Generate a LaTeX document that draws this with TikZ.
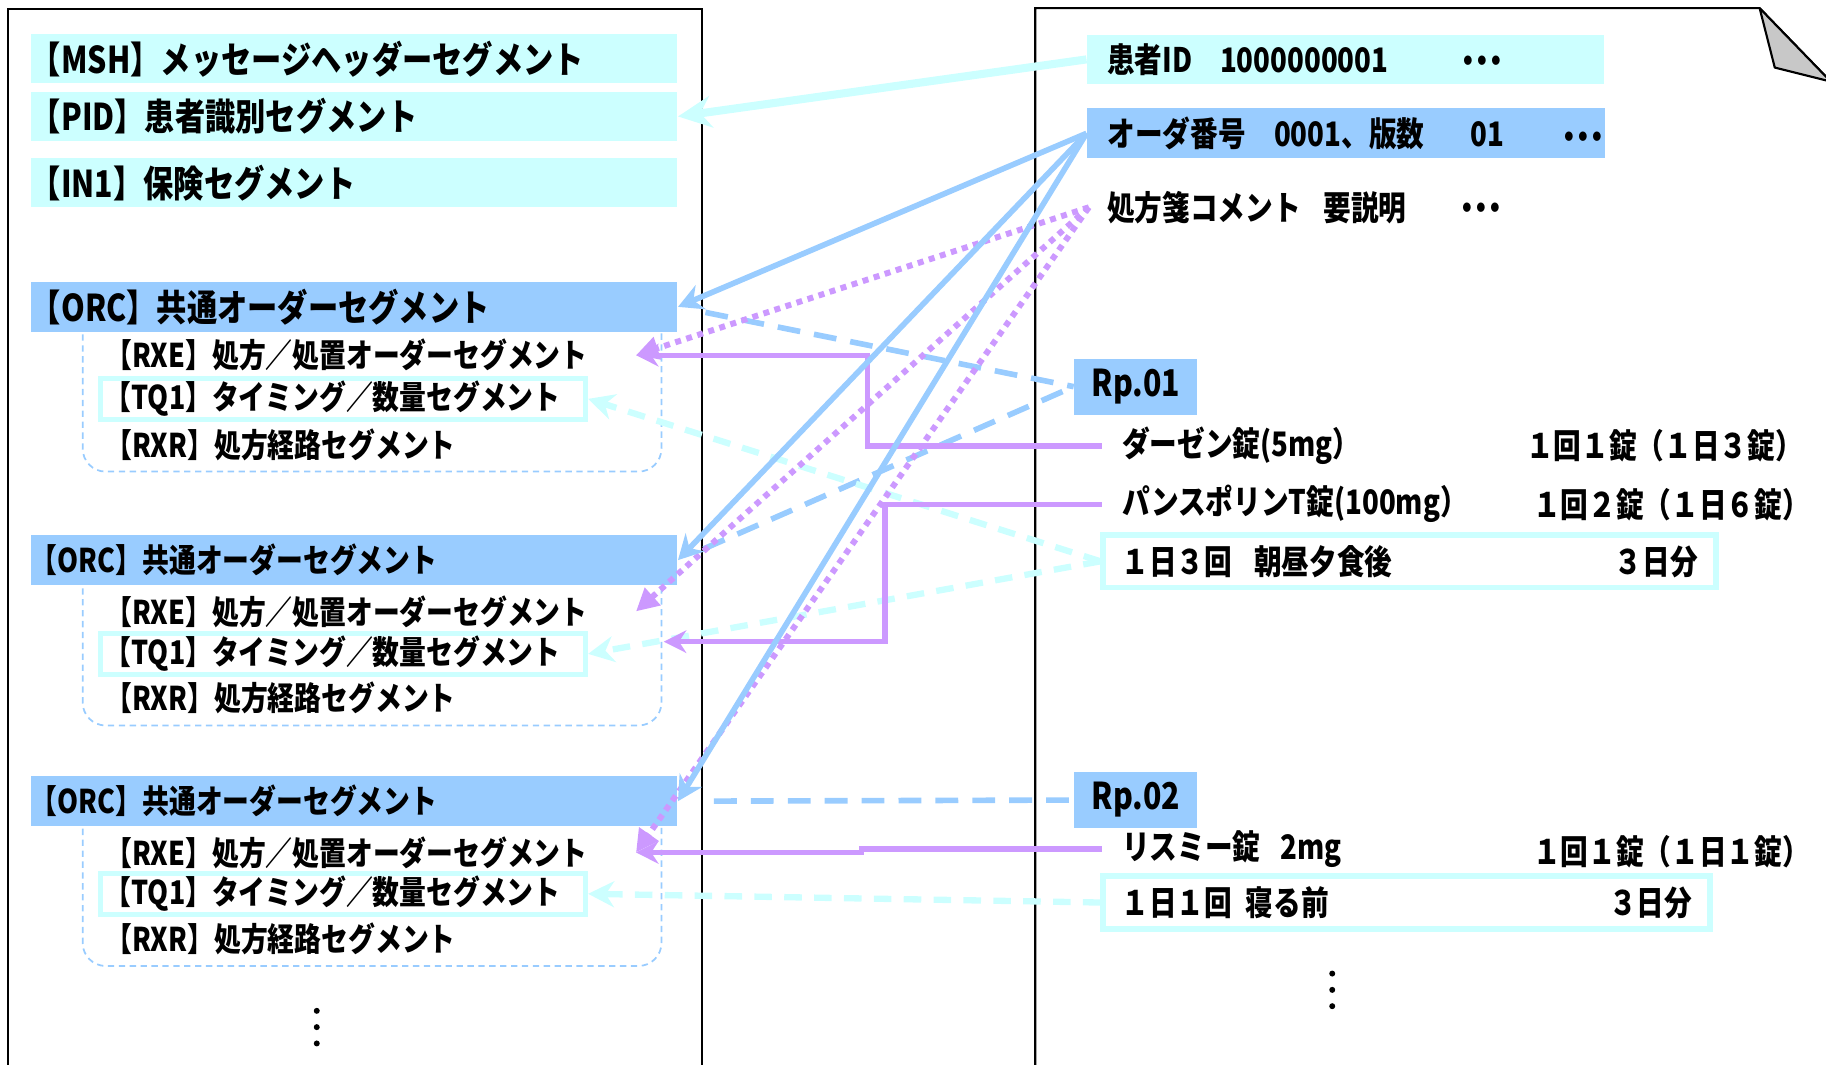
\documentclass[tikz,border=0pt]{standalone}
\usepackage{fontspec}
\setmainfont{Noto Sans CJK JP}[FakeStretch=0.82]
\usetikzlibrary{arrows.meta}
\definecolor{cyanlt}{HTML}{CCFFFF}
\definecolor{bluelt}{HTML}{99CCFF}
\definecolor{purplt}{HTML}{CC99FF}
\definecolor{foldgray}{HTML}{C8C8C8}

\begin{document}
\begin{tikzpicture}[x=0.11645mm,y=-0.11645mm]
			\tikzstyle{bigfont} = [font=\fontsize{10.5pt}{12pt}\selectfont\bfseries]
			\tikzstyle{smallfont} = [font=\fontsize{9.3pt}{11pt}\selectfont\bfseries]
			\tikzstyle{midfont} = [font=\fontsize{9.6pt}{11pt}\selectfont\bfseries]
			\tikzstyle{segbar} = [rectangle,anchor=west,inner xsep=0pt,inner ysep=0pt,minimum height=4.9mm,text width=64.63mm,align=left]
			\tikzstyle{grpbox} = [rectangle,draw=bluelt,line width=0.5pt,dash pattern=on 1.8pt off 1.3pt,rounded corners=2.3mm,minimum width=57.88mm,minimum height=16.88mm]
			\tikzstyle{subseg} = [anchor=west,inner sep=0pt,text width=52.98mm,align=left,smallfont]
			\tikzstyle{tqbox} = [rectangle,anchor=west,draw=cyanlt,line width=0.47mm,inner xsep=0.47mm,inner ysep=0pt,minimum width=48.56mm,minimum height=4.08mm,text width=47.62mm,align=left,smallfont]
			\tikzstyle{rbar} = [rectangle,anchor=west,inner xsep=1.98mm,inner ysep=0pt,minimum height=4.9mm,text width=47.74mm,align=left,midfont]
			\tikzstyle{rpbox} = [rectangle,anchor=west,fill=bluelt,inner xsep=1.75mm,inner ysep=0pt,minimum height=5.59mm,text width=8.73mm,align=left,bigfont]
			\tikzstyle{drug} = [anchor=west,inner xsep=1.98mm,inner ysep=0pt,midfont]
			\tikzstyle{lbl} = [anchor=west,inner sep=0pt,midfont]
			\tikzstyle{timbox} = [rectangle,anchor=west,draw=cyanlt,line width=0.58mm,inner xsep=1.8mm,inner ysep=0pt,minimum height=5.24mm,align=left,midfont]
			\tikzstyle{cyanarr} = [draw=cyanlt,line width=2.3pt,-{Stealth[length=9.5pt,width=9pt]}]
			\tikzstyle{bluearr} = [draw=bluelt,line width=1.6pt,-{Stealth[length=7pt,width=7.4pt]}]
			\tikzstyle{purparr} = [draw=purplt,line width=1.5pt,-{Stealth[length=6.4pt,width=6.4pt]}]
			\tikzstyle{purpdot} = [draw=purplt,line width=1.7pt,dash pattern=on 1.7pt off 1.6pt,-{Triangle[length=6.4pt,width=6.4pt]}]
			\tikzstyle{bluedash} = [draw=bluelt,line width=1.6pt,dash pattern=on 6.5pt off 4pt]
			\tikzstyle{cyandash} = [draw=cyanlt,line width=1.8pt,dash pattern=on 5pt off 3.5pt,-{Stealth[length=7.4pt,width=7.4pt]}]
			\useasboundingbox (0,0) rectangle (1568,914);
			\draw[line width=0.6pt] (7,920) -- (7,8) -- (603,8) -- (603,920);
			\draw[line width=0.6pt] (889,920) -- (889,7) -- (1511,7) -- (1572,70) -- (1572,920);
			\filldraw[fill=foldgray,line width=0.6pt,line join=round] (1511,7) -- (1524,58) -- (1572,70) -- cycle;
			\node[grpbox] (grp1) at (319.5,332.5) {};
			\node[grpbox] (grp2) at (319.5,550.5) {};
			\node[grpbox] (grp3) at (319.5,757) {};
			\node[segbar,fill=cyanlt,bigfont] (msh) at (26,50.5) {【MSH】メッセージヘッダーセグメント};
			\node[segbar,fill=cyanlt,bigfont] (pid) at (26,100) {【PID】患者識別セグメント};
			\node[segbar,fill=cyanlt,bigfont] (in1) at (26,157) {【IN1】保険セグメント};
			\node[segbar,fill=bluelt,bigfont,minimum height=5mm] (orc1) at (26,263.5) {【ORC】共通オーダーセグメント};
			\node[subseg] (rxe1) at (90,305) {【RXE】処方／処置オーダーセグメント};
			\node[tqbox] (tq1) at (84,342.5) {【TQ1】タイミング／数量セグメント};
			\node[subseg] (rxr1) at (90,382) {【RXR】処方経路セグメント};
			\node[segbar,fill=bluelt,smallfont,minimum height=5mm] (orc2) at (26,481) {【ORC】共通オーダーセグメント};
			\node[subseg] (rxe2) at (90,525) {【RXE】処方／処置オーダーセグメント};
			\node[tqbox] (tq2) at (84,561.5) {【TQ1】タイミング／数量セグメント};
			\node[subseg] (rxr2) at (90,599) {【RXR】処方経路セグメント};
			\node[segbar,fill=bluelt,smallfont,minimum height=5mm] (orc3) at (26,688) {【ORC】共通オーダーセグメント};
			\node[subseg] (rxe3) at (90,732) {【RXE】処方／処置オーダーセグメント};
			\node[tqbox] (tq3) at (84,767.5) {【TQ1】タイミング／数量セグメント};
			\node[subseg] (rxr3) at (90,806) {【RXR】処方経路セグメント};
			\fill (272,868) circle (0.3mm);
			\fill (272,882) circle (0.3mm);
			\fill (272,896) circle (0.3mm);
			\node[rbar,fill=cyanlt,minimum width=51.70mm] (pat) at (933,51) {\makebox[11.3mm][l]{患者ID}1000000001};
			\node[lbl] (patdots) at (1254,56) {\makebox[1.4mm]{・}\makebox[1.4mm]{・}\makebox[1.4mm]{・}};
			\node[rbar,fill=bluelt,minimum width=51.82mm,minimum height=5mm] (ord) at (933,114.5) {\makebox[16.65mm][l]{オーダ番号}\makebox[19.68mm][l]{0001、版数}01};
			\node[lbl] (orddots) at (1341,121) {\makebox[1.4mm]{・}\makebox[1.4mm]{・}\makebox[1.4mm]{・}};
			\node[drug,inner xsep=1.75mm] (cmt) at (935,178) {\makebox[21.66mm][l]{処方箋コメント}要説明};
			\node[lbl] (cmtdots) at (1253,182) {\makebox[1.4mm]{・}\makebox[1.4mm]{・}\makebox[1.4mm]{・}};
			\node[rpbox] (rp1) at (922,332) {Rp.01};
			\node[drug] (drg1) at (946,383) {ダーゼン錠(5mg）};
			\node[lbl] (dos1) at (1310,383) {１回１錠（１日３錠）};
			\node[drug] (drg2) at (946,433) {パンスポリンT錠(100mg）};
			\node[lbl] (dos2) at (1316,433) {１回２錠（１日６錠）};
			\node[timbox,minimum width=61.25mm,text width=57.65mm] (tim1) at (945,482) {\makebox[13.28mm][l]{１日３回}朝昼夕食後\hfill ３日分\hspace*{0.7mm}};
			\node[rpbox] (rp2) at (922,687) {Rp.02};
			\node[drug] (drg3) at (946,729) {\makebox[15.84mm][l]{リスミー錠}2mg};
			\node[lbl] (dos3) at (1316,731) {１回１錠（１日１錠）};
			\node[timbox,minimum width=60.67mm,text width=57.07mm] (tim2) at (945,775) {\makebox[12.46mm][l]{１日１回}寝る前\hfill ３日分\hspace*{0.35mm}};
			\fill (1144,836) circle (0.3mm);
			\fill (1144,850) circle (0.3mm);
			\fill (1144,864) circle (0.3mm);
			\coordinate (rx2in) at (570,551);
			\draw[bluedash,shorten <=2.8mm] (orc1.east) -- (rp1.west);
			\draw[bluedash,shorten <=2.8mm] (orc2.east) -- (rp1.west);
			\draw[bluedash,shorten <=3.6mm] (orc3.east) -- (rp2.west);
			\draw[cyandash] (tim1.west) -- (tq1.east);
			\draw[cyandash] (tim1.west) -- (tq2.east);
			\draw[cyandash] (tim2.west) -- (tq3.east);
			\draw[purparr] (drg1.west) -- ++(-201,0) |- (rxe1.east);
			\draw[purparr] (drg2.west) -- ++(-186,0) |- (rx2in);
			\draw[purparr] (drg3.west) -- ++(-206,0) |- (rxe3.east);
			\draw[purpdot] (cmt.west) -- (rxe1.east);
			\draw[purpdot] (cmt.west) -- (rxe2.east);
			\draw[purpdot] (cmt.west) -- (rxe3.east);
			\draw[bluearr] (ord.west) -- (orc1.east);
			\draw[bluearr] (ord.west) -- (orc2.east);
			\draw[bluearr] (ord.west) -- (orc3.east);
			\draw[cyanarr] (pat.west) -- (pid.east);
\end{tikzpicture}
\end{document}
